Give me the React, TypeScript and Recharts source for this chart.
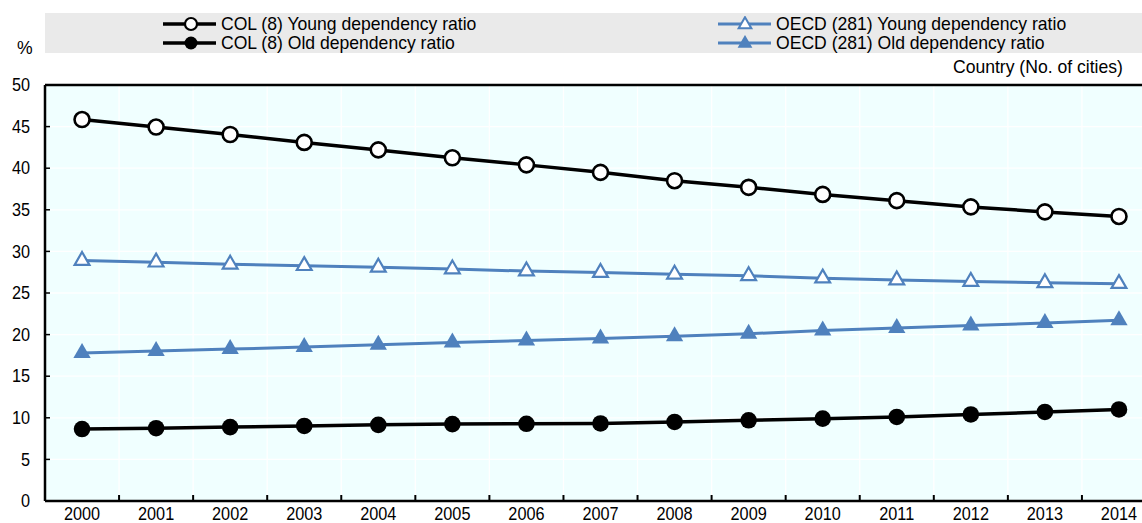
import React from "react";
import {
  LineChart,
  Line,
  XAxis,
  YAxis,
  CartesianGrid,
  ReferenceLine,
  Symbols,
} from "recharts";

const years = [2000, 2001, 2002, 2003, 2004, 2005, 2006, 2007, 2008, 2009, 2010, 2011, 2012, 2013, 2014];
const colYoung = [45.85, 44.95, 44.05, 43.1, 42.2, 41.25, 40.4, 39.5, 38.5, 37.7, 36.85, 36.1, 35.35, 34.75, 34.2];
const colOld = [8.65, 8.75, 8.88, 9.02, 9.15, 9.24, 9.28, 9.32, 9.5, 9.7, 9.9, 10.1, 10.4, 10.7, 11.0];
const oecdYoung = [28.9, 28.7, 28.45, 28.28, 28.08, 27.88, 27.63, 27.45, 27.25, 27.07, 26.78, 26.55, 26.38, 26.22, 26.12];
const oecdOld = [17.8, 18.02, 18.26, 18.5, 18.78, 19.05, 19.3, 19.52, 19.8, 20.1, 20.48, 20.78, 21.08, 21.38, 21.72];
const yTicks = [0, 5, 10, 15, 20, 25, 30, 35, 40, 45, 50];
const xBoundaries = [1999.5, 2000.5, 2001.5, 2002.5, 2003.5, 2004.5, 2005.5, 2006.5, 2007.5, 2008.5, 2009.5, 2010.5, 2011.5, 2012.5, 2013.5, 2014.5];

const seriesNames = {
  colYoung: "COL (8) Young dependency ratio",
  colOld: "COL (8) Old dependency ratio",
  oecdYoung: "OECD (281) Young dependency ratio",
  oecdOld: "OECD (281) Old dependency ratio",
};

const data = years.map((y, i) => ({
  year: y,
  colYoung: colYoung[i],
  colOld: colOld[i],
  oecdYoung: oecdYoung[i],
  oecdOld: oecdOld[i],
}));

const BLUE = "#4F81BD";
const FONT = "'Liberation Sans', Arial, sans-serif";
const FS = 17.7;
const SX = 0.92;
const LFS = 18.5;
const LSX = 0.95;

const OpenCircle = (props: any) => (
  <circle key={props.index} cx={props.cx} cy={props.cy} r={7.5} fill="#fff" stroke="#000" strokeWidth={2.6} />
);
const FilledCircle = (props: any) => (
  <circle key={props.index} cx={props.cx} cy={props.cy} r={8.3} fill="#000" stroke="none" />
);
const OpenTri = (props: any) => (
  <Symbols key={props.index} cx={props.cx} cy={props.cy} type="triangle" size={95} fill="#fff" stroke={BLUE} strokeWidth={2.2} />
);
const FilledTri = (props: any) => (
  <Symbols key={props.index} cx={props.cx} cy={props.cy} type="triangle" size={130} fill={BLUE} stroke="none" />
);

const XTick = (props: any) => {
  const { x, y, payload, index, width } = props;
  if (index === xBoundaries.length - 1) return null;
  const half = (width || 1111) / (xBoundaries.length - 1) / 2;
  const label = String(Math.round(payload.value + 0.5));
  return (
    <g transform={`translate(${x + half},${y}) scale(${SX},1)`}>
      <text x={0} y={0} textAnchor="middle" dy="0.71em" fontSize={FS} fontFamily={FONT} fill="#000">
        {label}
      </text>
    </g>
  );
};

const YTick = (props: any) => {
  const { x, y, payload } = props;
  return (
    <g transform={`translate(${x},${y}) scale(${SX},1)`}>
      <text x={0} y={0} textAnchor="end" dy="0.355em" fontSize={FS} fontFamily={FONT} fill="#000">
        {payload.value}
      </text>
    </g>
  );
};

const NarrowText = ({ children, origin = "left" }: any) => (
  <span
    style={{
      display: "inline-block",
      fontFamily: FONT,
      fontSize: LFS,
      lineHeight: "20px",
      whiteSpace: "nowrap",
      transform: `scaleX(${LSX})`,
      transformOrigin: origin,
    }}
  >
    {children}
  </span>
);

const LegendSample = ({ color, kind }: { color: string; kind: string }) => (
  <svg width={56} height={16} style={{ display: "block" }}>
    <line x1={1} y1={8} x2={54} y2={8} stroke={color} strokeWidth={kind.startsWith("c") ? 3.5 : 3} />
    {kind === "cOpen" && <circle cx={29} cy={8} r={6} fill="#fff" stroke="#000" strokeWidth={2.2} />}
    {kind === "cFill" && <circle cx={29} cy={8} r={6.5} fill="#000" />}
    {kind === "tOpen" && <Symbols cx={28} cy={8.5} type="triangle" size={70} fill="#fff" stroke={BLUE} strokeWidth={2} />}
    {kind === "tFill" && <Symbols cx={28} cy={8.5} type="triangle" size={95} fill={BLUE} />}
  </svg>
);

const LegendRow = ({ left, top, color, kind, text }: any) => (
  <div style={{ position: "absolute", left, top, display: "flex", alignItems: "center", height: 20 }}>
    <LegendSample color={color} kind={kind} />
    <div style={{ marginLeft: 3 }}>
      <NarrowText>{text}</NarrowText>
    </div>
  </div>
);

export default function App() {
  return (
    <div style={{ position: "absolute", left: 0, top: 0, width: 1142, height: 523, overflow: "hidden", background: "#fff" }}>
      <div style={{ position: "absolute", left: 45, top: 13, width: 1097, height: 40, background: "#EAEAEA" }} />
      <LegendRow left={162} top={14} color="#000" kind="cOpen" text={seriesNames.colYoung} />
      <LegendRow left={162} top={33} color="#000" kind="cFill" text={seriesNames.colOld} />
      <LegendRow left={717} top={14} color={BLUE} kind="tOpen" text={seriesNames.oecdYoung} />
      <LegendRow left={717} top={33} color={BLUE} kind="tFill" text={seriesNames.oecdOld} />
      <div style={{ position: "absolute", left: 17, top: 38 }}>
        <NarrowText>%</NarrowText>
      </div>
      <div style={{ position: "absolute", right: 19, top: 57 }}>
        <NarrowText origin="right">Country (No. of cities)</NarrowText>
      </div>
      <div style={{ position: "absolute", left: 0, top: 0 }}>
        <LineChart width={1160} height={523} data={data} margin={{ top: 85, right: 4, bottom: 0, left: 0 }}>
          <CartesianGrid stroke="#FFFFFF" strokeWidth={1.3} fill="#F0FFFF" />
          <XAxis
            dataKey="year"
            type="number"
            domain={[1999.5, 2014.5]}
            ticks={xBoundaries}
            interval={0}
            height={22}
            axisLine={{ stroke: "#000", strokeWidth: 2.5 }}
            tickLine={{ stroke: "#000", strokeWidth: 2 }}
            tickSize={-6}
            tickMargin={12}
            tick={<XTick />}
            allowDataOverflow
          />
          <YAxis
            type="number"
            domain={[0, 50]}
            ticks={yTicks}
            interval={0}
            width={45}
            axisLine={{ stroke: "#000", strokeWidth: 2.5 }}
            tickLine={{ stroke: "#000", strokeWidth: 1.5 }}
            tickSize={-5}
            tickMargin={20}
            tick={<YTick />}
          />
          <ReferenceLine y={50} stroke="#000" strokeWidth={2.5} />
          <Line dataKey="oecdYoung" name={seriesNames.oecdYoung} stroke={BLUE} strokeWidth={3} dot={<OpenTri />} isAnimationActive={false} />
          <Line dataKey="oecdOld" name={seriesNames.oecdOld} stroke={BLUE} strokeWidth={3} dot={<FilledTri />} isAnimationActive={false} />
          <Line dataKey="colYoung" name={seriesNames.colYoung} stroke="#000" strokeWidth={3.5} dot={<OpenCircle />} isAnimationActive={false} />
          <Line dataKey="colOld" name={seriesNames.colOld} stroke="#000" strokeWidth={3.5} dot={<FilledCircle />} isAnimationActive={false} />
        </LineChart>
      </div>
    </div>
  );
}
